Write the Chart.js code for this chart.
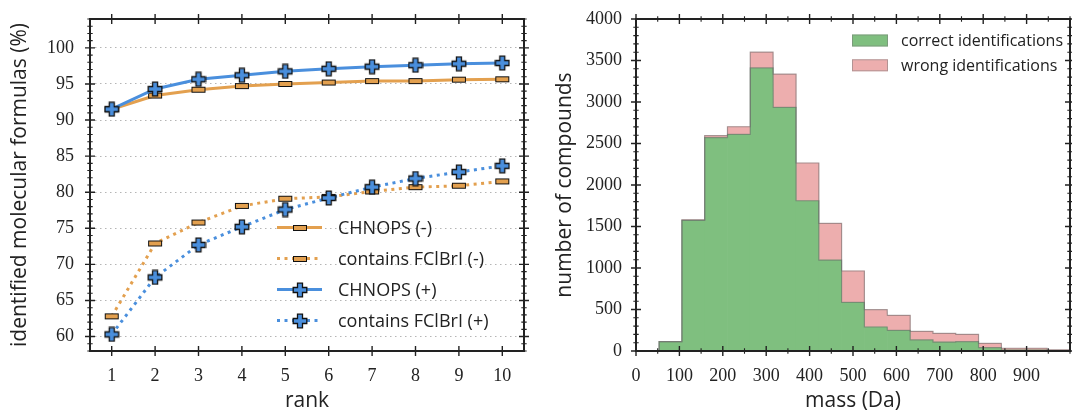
<!DOCTYPE html>
<html><head><meta charset="utf-8">
<script src="https://cdn.jsdelivr.net/npm/chart.js@4.4.0/dist/chart.umd.min.js"></script>
<style>
html,body{margin:0;padding:0;background:#fff;}
#wrap{position:relative;width:1072px;height:414px;overflow:hidden;}
#c1{position:absolute;left:0;top:0;}
#c2{position:absolute;left:545px;top:0;}
</style></head><body>
<div id="wrap"><canvas id="c1" width="545" height="414"></canvas><canvas id="c2" width="527" height="414"></canvas></div>
<script>
// ---- data: left panel ----
const ranks = [1, 2, 3, 4, 5, 6, 7, 8, 9, 10];
const chnopsNeg = [91.5, 93.4, 94.2, 94.7, 95.0, 95.2, 95.4, 95.4, 95.6, 95.65];
const fclbriNeg = [62.8, 72.9, 75.8, 78.1, 79.1, 79.35, 80.1, 80.7, 80.9, 81.5];
const chnopsPos = [91.5, 94.3, 95.65, 96.2, 96.75, 97.1, 97.4, 97.6, 97.8, 97.9];
const fclbriPos = [60.3, 68.2, 72.7, 75.2, 77.6, 79.2, 80.7, 81.9, 82.8, 83.65];
const rankTicks = [1, 2, 3, 4, 5, 6, 7, 8, 9, 10];
const pctTicks = [60, 65, 70, 75, 80, 85, 90, 95, 100];
// ---- data: right panel ----
const massEdges = [53, 106, 158, 211, 263, 316, 369, 421, 474, 526, 579, 632, 684, 737, 789, 842, 895, 947, 1000];
const correctCounts = [112, 1575, 2570, 2610, 3410, 2935, 1810, 1095, 587, 289, 249, 133, 108, 112, 40, 12, 12, 5];
const wrongCounts = [0, 5, 25, 92, 190, 400, 455, 443, 377, 209, 181, 104, 105, 89, 52, 21, 21, 8];
const massTicks = [0, 100, 200, 300, 400, 500, 600, 700, 800, 900];
const countTicks = [0, 500, 1000, 1500, 2000, 2500, 3000, 3500, 4000];

const ORANGE = '#E3A04F', BLUE = '#4A8FDD', INK = '#222222';
const GREEN = 'rgb(127,191,127)', PINK = 'rgb(237,174,174)';
const DOT = [3, 4.5];
const tickFont = {family: '"Liberation Serif", serif', size: 18};
const titleFont = {family: '"Open Sans", sans-serif', size: 21};
const legendFontL = '18px "Open Sans", sans-serif';
const legendFontR = '16px "Open Sans", sans-serif';
const plainNum = v => String(v);

function makePlus() {
  const c = document.createElement('canvas'); c.width = 16; c.height = 16;
  const g = c.getContext('2d'); const m = 8, h = 6.8, t = 2.5;
  g.beginPath();
  g.moveTo(m - t, m - h); g.lineTo(m + t, m - h); g.lineTo(m + t, m - t); g.lineTo(m + h, m - t);
  g.lineTo(m + h, m + t); g.lineTo(m + t, m + t); g.lineTo(m + t, m + h); g.lineTo(m - t, m + h);
  g.lineTo(m - t, m + t); g.lineTo(m - h, m + t); g.lineTo(m - h, m - t); g.lineTo(m - t, m - t);
  g.closePath(); g.fillStyle = BLUE; g.fill(); g.strokeStyle = '#111'; g.lineWidth = 1.3; g.stroke();
  return c;
}
function makeBar() {
  const c = document.createElement('canvas'); c.width = 16; c.height = 8;
  const g = c.getContext('2d');
  g.fillStyle = ORANGE; g.fillRect(1.5, 1.5, 13, 5);
  g.strokeStyle = '#111'; g.lineWidth = 1; g.strokeRect(1.5, 1.5, 13, 5);
  return c;
}
const plusImg = makePlus(), barImg = makeBar();

function frameTicks(xMinorStep, yMinorStep) {
  return {
    id: 'frameTicks',
    afterDraw(chart) {
      const {ctx, chartArea: a} = chart; const xs = chart.scales.x, ys = chart.scales.y;
      ctx.save(); ctx.strokeStyle = INK; ctx.setLineDash([]);
      const vt = (px, len) => { ctx.beginPath(); ctx.moveTo(px, a.bottom - len); ctx.lineTo(px, a.bottom + len);
        ctx.moveTo(px, a.top - len); ctx.lineTo(px, a.top + len); ctx.stroke(); };
      const ht = (py, len) => { ctx.beginPath(); ctx.moveTo(a.left - len, py); ctx.lineTo(a.left + len, py);
        ctx.moveTo(a.right - len, py); ctx.lineTo(a.right + len, py); ctx.stroke(); };
      ctx.lineWidth = 1.4;
      xs.ticks.forEach(t => vt(xs.getPixelForValue(t.value), 5));
      ys.ticks.forEach(t => ht(ys.getPixelForValue(t.value), 5));
      ctx.lineWidth = 1.1;
      if (xMinorStep) for (let v = Math.ceil(xs.min / xMinorStep) * xMinorStep; v <= xs.max; v += xMinorStep) {
        if (!xs.ticks.some(t => Math.abs(t.value - v) < 1e-6)) vt(xs.getPixelForValue(v), 2.7);
      }
      if (yMinorStep) for (let v = Math.ceil(ys.min / yMinorStep) * yMinorStep; v <= ys.max + 1e-9; v += yMinorStep) {
        if (!ys.ticks.some(t => Math.abs(t.value - v) < 1e-6)) ht(ys.getPixelForValue(v), 2.7);
      }
      ctx.lineWidth = 2;
      ctx.strokeRect(a.left, a.top, a.right - a.left, a.bottom - a.top);
      ctx.restore();
    }
  };
}

const leftLegend = {
  id: 'leftLegend',
  afterDraw(chart) {
    const ctx = chart.ctx; const ds = chart.data.datasets;
    const order = [2, 3, 0, 1];
    const x0 = 277, x1 = 322, tx = 338, y0 = 227.5, dy = 31;
    ctx.save();
    order.forEach((k, i) => {
      const d = ds[k]; const y = y0 + i * dy;
      ctx.strokeStyle = d.borderColor; ctx.lineWidth = 3; ctx.setLineDash(d.borderDash);
      ctx.beginPath(); ctx.moveTo(x0, y); ctx.lineTo(x1, y); ctx.stroke(); ctx.setLineDash([]);
      const img = d.pointStyle;
      ctx.drawImage(img, Math.round((x0 + x1) / 2 - img.width / 2), Math.round(y - img.height / 2));
      ctx.fillStyle = INK; ctx.font = legendFontL; ctx.textBaseline = 'middle'; ctx.textAlign = 'left';
      ctx.fillText(d.label, tx, y + 1);
    });
    ctx.restore();
  }
};

function lineDs(label, vals, color, dash, img) {
  return {label, data: ranks.map((r, i) => ({x: r, y: vals[i]})), borderColor: color, borderWidth: 3,
    borderDash: dash, pointStyle: img, pointRadius: 7, pointHoverRadius: 7, tension: 0, fill: false};
}
const fixY = w => s => { s.width = w; s.paddingTop = 0; s.paddingBottom = 0; };
const fixX = s => { s.height = 63; s.paddingLeft = 0; s.paddingRight = 0; };

new Chart(document.getElementById('c1'), {
  type: 'line',
  data: {datasets: [
    lineDs('CHNOPS (+)', chnopsPos, BLUE, [], plusImg),
    lineDs('contains FClBrI (+)', fclbriPos, BLUE, DOT, plusImg),
    lineDs('CHNOPS (-)', chnopsNeg, ORANGE, [], barImg),
    lineDs('contains FClBrI (-)', fclbriNeg, ORANGE, DOT, barImg)
  ]},
  options: {
    responsive: false, animation: false, devicePixelRatio: 1,
    layout: {padding: {top: 19, right: 21, left: 0, bottom: 0}},
    plugins: {legend: {display: false}, tooltip: {enabled: false}},
    scales: {
      x: {type: 'linear', min: 0.5, max: 10.5,
        afterBuildTicks: s => { s.ticks = rankTicks.map(v => ({value: v})); },
        afterFit: fixX,
        grid: {display: false, drawTicks: false}, border: {display: false},
        ticks: {padding: 14, font: tickFont, color: INK, autoSkip: false, maxRotation: 0, callback: plainNum},
        title: {display: true, text: 'rank', font: titleFont, color: INK, padding: {top: 0, bottom: 0}}},
      y: {type: 'linear', min: 58, max: 104,
        afterBuildTicks: s => { s.ticks = pctTicks.map(v => ({value: v})); },
        afterFit: fixY(90),
        grid: {color: '#b5b5b5', lineWidth: 1, drawTicks: false}, border: {display: false, dash: [1.5, 3.5]},
        ticks: {padding: 16, font: tickFont, color: INK, autoSkip: false, callback: plainNum},
        title: {display: true, text: 'identified molecular formulas (%)', font: titleFont, color: INK, padding: {top: 7, bottom: 0}}}
    }
  },
  plugins: [frameTicks(0, 1), leftLegend]
});

// ---- right panel ----
const massCenters = correctCounts.map((_, i) => (massEdges[i] + massEdges[i + 1]) / 2);

const stepOutline = {
  id: 'stepOutline',
  afterDatasetsDraw(chart) {
    const ctx = chart.ctx; const a = chart.chartArea;
    ctx.save(); ctx.strokeStyle = 'rgba(105,105,105,0.55)'; ctx.lineWidth = 1.2;
    [0, 1].forEach(k => {
      const els = chart.getDatasetMeta(k).data;
      ctx.beginPath();
      els.forEach((el, i) => {
        const l = el.x - el.width / 2, r = el.x + el.width / 2;
        if (i === 0) { ctx.moveTo(l, a.bottom); }
        ctx.lineTo(l, el.y); ctx.lineTo(r, el.y);
      });
      const last = els[els.length - 1];
      ctx.lineTo(last.x + last.width / 2, a.bottom);
      ctx.stroke();
    });
    ctx.restore();
  }
};

const rightLegend = {
  id: 'rightLegend',
  afterDraw(chart) {
    const ctx = chart.ctx; const ds = chart.data.datasets;
    const ox = -545; const px = 852 + ox, pw = 36, ph = 12, tx = 901 + ox, y0 = 40.5, dy = 24.8;
    ctx.save();
    ds.forEach((d, i) => {
      const y = y0 + i * dy;
      ctx.fillStyle = d.backgroundColor; ctx.fillRect(px, y - ph / 2, pw, ph);
      ctx.strokeStyle = 'rgba(120,120,120,0.5)'; ctx.lineWidth = 1; ctx.strokeRect(px + 0.5, y - ph / 2 + 0.5, pw - 1, ph - 1);
      ctx.fillStyle = INK; ctx.font = legendFontR; ctx.textBaseline = 'middle'; ctx.textAlign = 'left';
      ctx.fillText(d.label, tx, y + 1);
    });
    ctx.restore();
  }
};

new Chart(document.getElementById('c2'), {
  type: 'bar',
  data: {datasets: [
    {label: 'correct identifications', data: massCenters.map((c, i) => ({x: c, y: correctCounts[i]})),
      backgroundColor: GREEN, borderWidth: 0, stack: 'mass', barPercentage: 1, categoryPercentage: 1},
    {label: 'wrong identifications', data: massCenters.map((c, i) => ({x: c, y: wrongCounts[i]})),
      backgroundColor: PINK, borderWidth: 0, stack: 'mass', barPercentage: 1, categoryPercentage: 1}
  ]},
  options: {
    responsive: false, animation: false, devicePixelRatio: 1,
    layout: {padding: {top: 19, right: 2, left: 0, bottom: 0}},
    plugins: {legend: {display: false}, tooltip: {enabled: false}},
    scales: {
      x: {type: 'linear', min: 0, max: 1000, offset: false,
        afterBuildTicks: s => { s.ticks = massTicks.map(v => ({value: v})); },
        afterFit: fixX,
        grid: {display: false, drawTicks: false, offset: false}, border: {display: false},
        ticks: {padding: 14, font: tickFont, color: INK, autoSkip: false, maxRotation: 0, callback: plainNum},
        title: {display: true, text: 'mass (Da)', font: titleFont, color: INK, padding: {top: 0, bottom: 0}}},
      y: {type: 'linear', stacked: true, min: 0, max: 4000,
        afterBuildTicks: s => { s.ticks = countTicks.map(v => ({value: v})); },
        afterFit: fixY(91),
        grid: {display: false, drawTicks: false}, border: {display: false},
        ticks: {padding: 14, font: tickFont, color: INK, autoSkip: false, callback: plainNum},
        title: {display: true, text: 'number of compounds', font: titleFont, color: INK, padding: {top: 7, bottom: 0}}}
    }
  },
  plugins: [stepOutline, frameTicks(50, 100), rightLegend]
});
</script>
</body></html>
